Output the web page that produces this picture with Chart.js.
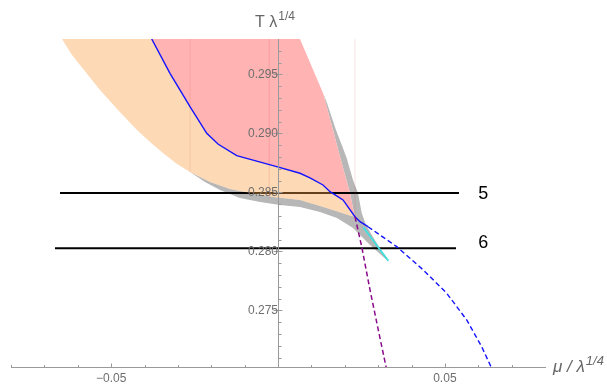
<!DOCTYPE html>
<html><head><meta charset="utf-8">
<script src="https://cdn.jsdelivr.net/npm/chart.js@4.4.0/dist/chart.umd.min.js"></script>
<style>html,body{margin:0;padding:0;background:#fff}</style>
</head><body>
<canvas id="c" width="607" height="386"></canvas>
<script>
// ---- axes ----
const xRange = [-0.08, 0.08];
const yRange = [0.2702, 0.2980];
const xTickValues = [-0.05, 0.05];
const xTickLabels = ['\u22120.05', '0.05'];
const xMinorTicks = [-0.08,-0.07,-0.06,-0.04,-0.03,-0.02,-0.01,0.01,0.02,0.03,0.04,0.06,0.07];
const yTickValues = [0.275, 0.280, 0.285, 0.290, 0.295];
const yTickLabels = ['0.275', '0.280', '0.285', '0.290', '0.295'];
const yMinorTicks = [0.271,0.272,0.273,0.274,0.276,0.277,0.278,0.279,0.281,0.282,0.283,0.284,
                     0.286,0.287,0.288,0.289,0.291,0.292,0.293,0.294,0.296,0.297];

// ---- curves ----
const blueSolidX = [-0.03784,-0.03236,-0.02637,-0.02136,-0.01789,-0.01237,-0.00039,0.00659,0.00959,0.01348,0.01558,0.01948,0.02307,0.02457,0.02697];
const blueSolidY = [0.29800,0.29509,0.29226,0.29001,0.28908,0.28811,0.28718,0.28662,0.28622,0.28563,0.28506,0.28436,0.28294,0.28252,0.28209];
const blueDashedX = [0.02697,0.03557,0.04354,0.05055,0.05654,0.06103,0.06403];
const blueDashedY = [0.28209,0.28040,0.27842,0.27645,0.27419,0.27192,0.27009];
const purpleX = [0.02307,0.02508,0.02757,0.03005,0.03257];
const purpleY = [0.28294,0.28040,0.27673,0.27334,0.26995];
const cyanX = [0.02556,0.03305];
const cyanY = [0.28204,0.27921];

// ---- region boundaries ----
const orangeEdgeX = [-0.06472,-0.06172,-0.05813,-0.05333,-0.04794,-0.04225,-0.03835,-0.03446,-0.03026,-0.02637,-0.02037,-0.01438,-0.00839,-0.0015,0.00659,0.01258,0.01738,0.02097];
const orangeEdgeY = [0.29800,0.29664,0.29537,0.29368,0.29198,0.29029,0.28927,0.28834,0.28741,0.28673,0.28588,0.28529,0.28495,0.28461,0.28436,0.28385,0.28342,0.28308];
const redEdgeX = [0.02247,0.02157,0.02008,0.01843,0.01648,0.01348,0.00659];
const redEdgeY = [0.28368,0.28495,0.28647,0.28817,0.29029,0.29342,0.29800];
const grayOuterX = [0.01348,0.01468,0.01738,0.02058,0.02247,0.02397,0.02508,0.02637,0.02847,0.03086,0.03326];
const grayOuterY = [0.29342,0.29258,0.29029,0.28792,0.28605,0.28495,0.28325,0.28224,0.28122,0.28012,0.27910];
const grayLowerX = [0.02757,0.02247,0.01768,0.01258,0.00659,0.0006,-0.00539,-0.01139,-0.01738,-0.02187,-0.02637];
const grayLowerY = [0.28054,0.28198,0.28283,0.28334,0.28376,0.28393,0.28419,0.28453,0.28520,0.28588,0.28673];

// ---- horizontal reference lines and their labels ----
const refLineY = [0.28495, 0.28026];
const refLineXStart = [-0.06532, -0.06682];
const refLineXEnd = [0.05423, 0.05333];
const refLabels = ['5', '6'];
const refLabelX = [0.0615, 0.0615];
const refLabelY = [0.2849, 0.2807];

// ---- faint mesh seams ----
const seamX = [-0.02637, -0.0026, 0.02307];
const seamYTop = [0.298, 0.298, 0.298];
const seamYBottom = [0.28673, 0.2845, 0.2830];

const pts = (xs, ys) => xs.map((x, i) => ({x: x, y: ys[i]}));
const J = {x: blueSolidX[12], y: blueSolidY[12]};
const JOIN = 9; // index of the orange-edge point where the gray band begins
const orangePoly = pts(orangeEdgeX, orangeEdgeY).concat([J], pts(blueSolidX.slice(0, 12), blueSolidY.slice(0, 12)).reverse());
const redPoly = pts(blueSolidX.slice(0, 13), blueSolidY.slice(0, 13)).concat(pts(redEdgeX, redEdgeY));
const grayPoly = pts(grayOuterX, grayOuterY).concat(
  pts(grayLowerX, grayLowerY),
  pts(orangeEdgeX.slice(JOIN + 1), orangeEdgeY.slice(JOIN + 1)),
  [J],
  pts(redEdgeX.slice(0, 5), redEdgeY.slice(0, 5)));

const axisColor = '#9a9a9a';
const labelColor = '#6e6e6e';
const FONT = "'Liberation Sans', Arial, sans-serif";

function poly(data, color, order) {
  return {data, showLine: true, fill: 'shape', backgroundColor: color, borderWidth: 0,
          borderColor: 'rgba(0,0,0,0)', pointRadius: 0, order};
}
function curve(data, color, width, dash, order) {
  return {data, showLine: true, fill: false, borderColor: color, borderWidth: width,
          borderDash: dash, pointRadius: 0, tension: 0, order};
}

const datasets = [
  poly(grayPoly, '#b7b7b7', 20),
  poly(redPoly, '#ffb3b3', 19),
];
refLineY.forEach((v, i) => datasets.push(curve([{x: refLineXStart[i], y: v}, {x: refLineXEnd[i], y: v}], '#000', 2, [], 18)));
datasets.push(poly(orangePoly, 'rgba(250,160,70,0.4)', 15));
seamX.forEach((v, i) => datasets.push(curve([{x: v, y: seamYTop[i]}, {x: v, y: seamYBottom[i]}], 'rgba(220,90,90,0.06)', 1, [], 14)));
datasets.push(curve(pts(blueSolidX, blueSolidY), '#1414ff', 1.4, [], 4));
datasets.push(curve(pts(blueDashedX, blueDashedY), '#1414ff', 1.4, [5, 3], 3));
datasets.push(curve(pts(purpleX, purpleY), '#8a0a8a', 1.5, [5, 3], 2));
datasets.push(curve(pts(cyanX, cyanY), '#3fe0e0', 1.8, [], 1));

const decor = {
  id: 'decor',
  afterDatasetsDraw(chart) {
    const {ctx, scales: {x, y}} = chart;
    const x0 = Math.round(x.getPixelForValue(0)) + 0.5;
    const yb = Math.round(y.getPixelForValue(yRange[0])) + 0.5;
    ctx.save();
    ctx.strokeStyle = axisColor; ctx.lineWidth = 1;
    ctx.beginPath();
    yTickValues.forEach(v => { const p = Math.round(y.getPixelForValue(v)) + 0.5; ctx.moveTo(x0 - 5, p); ctx.lineTo(x0 + 4, p); });
    yMinorTicks.forEach(v => { const p = Math.round(y.getPixelForValue(v)) + 0.5; ctx.moveTo(x0, p); ctx.lineTo(x0 + 3, p); });
    xTickValues.forEach(v => { const p = Math.round(x.getPixelForValue(v)) + 0.5; ctx.moveTo(p, yb); ctx.lineTo(p, yb - 4); });
    xMinorTicks.forEach(v => { const p = Math.round(x.getPixelForValue(v)) + 0.5; ctx.moveTo(p, yb); ctx.lineTo(p, yb - 2.5); });
    ctx.stroke();
    ctx.restore();
  },
  afterDraw(chart) {
    const {ctx, scales: {x, y}} = chart;
    ctx.save();
    ctx.fillStyle = '#000';
    ctx.font = '18px ' + FONT;
    ctx.textAlign = 'center'; ctx.textBaseline = 'middle';
    refLabels.forEach((t, i) => ctx.fillText(t, x.getPixelForValue(refLabelX[i]), y.getPixelForValue(refLabelY[i])));
    ctx.fillStyle = '#666';
    ctx.textAlign = 'left'; ctx.textBaseline = 'alphabetic';
    function sup(base, supTxt, px, py, baseFont, supFont) {
      ctx.font = baseFont; ctx.fillText(base, px, py);
      const w = ctx.measureText(base).width;
      ctx.font = supFont; ctx.fillText(supTxt, px + w + 1, py - 7);
    }
    sup('T \u03bb', '1/4', 255, 27, '16px ' + FONT, '12px ' + FONT);
    sup('\u03bc / \u03bb', '1/4', 553, 372, 'italic 17px ' + FONT, 'italic 13px ' + FONT);
    ctx.restore();
  }
};

new Chart(document.getElementById('c'), {
  type: 'scatter',
  data: {datasets},
  options: {
    responsive: false, animation: false, devicePixelRatio: 1,
    layout: {padding: {left: 11, right: 62, top: 39, bottom: 19}},
    plugins: {legend: {display: false}, tooltip: {enabled: false}},
    scales: {
      x: {
        type: 'linear', min: xRange[0], max: xRange[1], position: {y: yRange[0]},
        grid: {display: false, drawTicks: false},
        border: {display: true, color: axisColor, width: 1, z: 1},
        afterBuildTicks: s => { s.ticks = xTickValues.map(v => ({value: v})); },
        ticks: {autoSkip: false, maxRotation: 0, padding: 4, color: labelColor, z: 1,
                font: {family: FONT, size: 12},
                callback: (v, i) => xTickLabels[i]}
      },
      y: {
        type: 'linear', min: yRange[0], max: yRange[1], position: {x: 0},
        grid: {display: false, drawTicks: false},
        border: {display: true, color: axisColor, width: 1, z: 1},
        afterBuildTicks: s => { s.ticks = yTickValues.map(v => ({value: v})); },
        ticks: {autoSkip: false, padding: 6, color: labelColor, z: 1,
                font: {family: FONT, size: 12},
                callback: (v, i) => yTickLabels[i]}
      }
    }
  },
  plugins: [decor]
});
</script>
</body></html>
